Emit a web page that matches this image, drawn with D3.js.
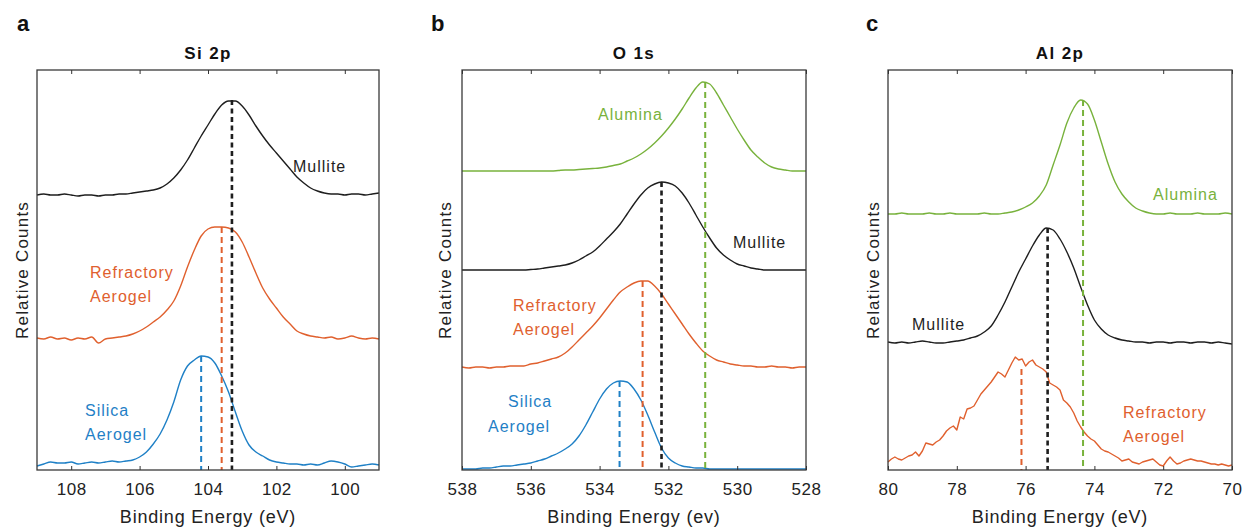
<!DOCTYPE html>
<html>
<head>
<meta charset="utf-8">
<script src="https://cdnjs.cloudflare.com/ajax/libs/d3/7.8.5/d3.min.js"></script>
<style>
  body { margin: 0; background: #fff; }
  svg text { font-family: "Liberation Sans", Arial, sans-serif; }
</style>
</head>
<body>
<svg id="chart" width="1245" height="527"></svg>
<script>
var colors = { black: "#1e1e1e", orange: "#e0602e", blue: "#1f80c6", green: "#78b23c" };

// energy grids (eV), high -> low like the plot
function grid(start, step, n) {
  return d3.range(n).map(function (i) { return +(start - i * step).toFixed(1); });
}
var siEnergy = grid(109, 0.2, 51);
var oEnergy = grid(538, 0.2, 51);
var alEnergy = grid(80, 0.2, 51);
var alEnergyFine = grid(80, 0.1, 101);

// relative counts, stacked offsets as drawn
var siMullite = [275, 276, 275, 275, 276, 275, 274, 275, 275, 274, 275, 275, 276, 276, 277, 278,
  279, 280, 282, 286, 292, 300, 310, 322, 334, 345, 356, 365, 369, 369, 364, 355, 344, 334, 325,
  317, 309, 301, 293, 287, 282, 279, 277, 276, 276, 275, 276, 276, 275, 276, 277];
var siRefractory = [132, 131, 133, 131, 132, 130, 132, 131, 133, 127, 131, 132, 133, 134, 136, 139,
  143, 148, 153, 160, 169, 184, 203, 220, 234, 241, 243, 243, 242, 238, 228, 213, 197, 182, 171,
  162, 153, 146, 139, 136, 134, 133, 132, 133, 131, 132, 134, 132, 131, 132, 131];
var siSilica = [4, 6, 8, 7, 7, 8, 6, 7, 8, 7, 8, 9, 8, 9, 10, 13, 18, 26, 36, 50, 68, 90, 104, 110,
  114, 113, 107, 94, 78, 58, 39, 25, 18, 14, 10, 8, 7, 6, 6, 5, 6, 5, 7, 9, 8, 6, 3, 4, 5, 6, 5];

var oAlumina = [299, 299, 299, 299, 299, 299, 299, 299, 299, 299, 299, 299, 299, 299, 299.5, 300,
  300, 300.5, 301, 301.5, 302, 303, 304.5, 306, 309, 312, 316, 321, 327, 334, 342, 351, 361, 372, 382,
  388, 386, 377, 365, 353, 341, 330, 320, 313, 307, 303, 301, 300, 299, 299, 299];
var oMullite = [200, 200, 200, 200, 200, 200, 200, 200, 200, 200, 200.5, 201, 202, 203, 204, 205,
  207, 210, 214, 218, 224, 231, 238, 246, 256, 266, 275, 282, 286, 288, 287, 284, 277, 267, 255,
  243, 232, 222, 215, 210, 206, 204, 202, 201, 200, 200, 200, 200, 200, 200, 200];
var oRefractory = [103, 102, 103, 103, 102, 103, 103, 104, 104, 104, 106, 107, 109, 111, 113, 117,
  123, 130, 137, 144, 152, 161, 170, 178, 183, 187, 189, 189, 184, 176, 166, 156, 146, 136, 127,
  119, 114, 110, 108, 106, 105, 104, 104, 103, 103, 104, 103, 103, 102, 103, 103];
var oSilica = [1, 1, 1, 2, 2, 3, 4, 4, 5, 6, 7, 9, 11, 14, 17, 21, 26, 34, 45, 58, 71, 81, 87, 89,
  88, 81, 70, 55, 38, 22, 12, 7, 4, 3, 2, 2, 1, 1, 1, 1, 1, 1, 1, 1, 1, 1, 1, 1, 1, 1, 1];

var alAlumina = [256, 256, 257, 256, 256, 256, 257, 256, 256, 257, 256, 256, 256, 256, 257, 256,
  256, 257, 258, 260, 263, 267, 274, 285, 305, 325, 347, 362, 370, 366, 350, 328, 306, 288, 276,
  268, 262, 259, 257, 256, 256, 257, 256, 256, 256, 257, 256, 256, 256, 257, 256];
var alMullite = [128, 127, 128, 127, 128, 129, 128, 127, 127, 128, 129, 130, 132, 134, 138, 144,
  155, 168, 183, 198, 211, 224, 235, 242, 240, 231, 218, 202, 183, 165, 150, 141, 135, 132, 130,
  129, 128, 128, 127, 128, 128, 127, 128, 128, 127, 128, 128, 127, 128, 127, 126];
var alRefractory = [8, 11, 13, 11, 10, 12, 14, 15, 18, 14,
  19, 27, 26, 25, 28, 30, 34, 39, 42, 44,
  40, 53, 51, 61, 62, 64, 70, 76, 80, 84,
  88, 93, 98, 96, 93, 100, 107, 113, 110, 111,
  104, 108, 110, 105, 103, 101, 98, 87, 85, 83,
  80, 70, 67, 63, 57, 49, 43, 38, 34, 31,
  29, 25, 21, 19, 18, 16, 14, 12, 9, 10,
  11, 8, 7, 6, 8, 9, 10, 11, 8, 5,
  4, 9, 13, 9, 6, 7, 9, 10, 11, 10,
  9, 9, 8, 7, 6, 6, 5, 6, 5, 4, 5];

// peak positions marked by dashed lines: energy and top of the line
var siPeakEnergy = [103.3, 103.6, 104.2];
var siPeakTop = [370, 243, 114];
var oPeakEnergy = [530.93, 532.2, 532.75, 533.42];
var oPeakTop = [388, 288, 189, 89];
var alPeakEnergy = [74.33, 75.36, 76.12];
var alPeakTop = [370, 242, 101];

var siTicks = [108, 106, 104, 102, 100];
var oTicks = [538, 536, 534, 532, 530, 528];
var alTicks = [80, 78, 76, 74, 72, 70];

var svg = d3.select("#chart");
var plotTop = 70, plotBottom = 470;

var panels = [
  {
    letter: "a", letterX: 17, title: "Si 2p", axisTitle: "Binding Energy (eV)",
    left: 37, right: 379, domain: [109, 99], ticks: siTicks, ylabelX: 28,
    series: [
      { e: siEnergy, v: siMullite, c: colors.black },
      { e: siEnergy, v: siRefractory, c: colors.orange },
      { e: siEnergy, v: siSilica, c: colors.blue }
    ],
    peaks: { e: siPeakEnergy, top: siPeakTop, c: [colors.black, colors.orange, colors.blue] },
    labels: [
      { t: ["Mullite"], x: 293, y: 172, c: colors.black },
      { t: ["Refractory", "Aerogel"], x: 90, y: 278, c: colors.orange },
      { t: ["Silica", "Aerogel"], x: 85, y: 416, c: colors.blue }
    ]
  },
  {
    letter: "b", letterX: 431, title: "O 1s", axisTitle: "Binding Energy (ev)",
    left: 462, right: 806, domain: [538, 528], ticks: oTicks, ylabelX: 451,
    series: [
      { e: oEnergy, v: oAlumina, c: colors.green },
      { e: oEnergy, v: oMullite, c: colors.black },
      { e: oEnergy, v: oRefractory, c: colors.orange },
      { e: oEnergy, v: oSilica, c: colors.blue }
    ],
    peaks: { e: oPeakEnergy, top: oPeakTop, c: [colors.green, colors.black, colors.orange, colors.blue] },
    labels: [
      { t: ["Alumina"], x: 598, y: 120, c: colors.green },
      { t: ["Mullite"], x: 733, y: 248, c: colors.black },
      { t: ["Refractory", "Aerogel"], x: 513, y: 311, c: colors.orange },
      { t: ["Silica"], x: 508, y: 407, c: colors.blue },
      { t: ["Aerogel"], x: 488, y: 432, c: colors.blue }
    ]
  },
  {
    letter: "c", letterX: 866, title: "Al 2p", axisTitle: "Binding Energy (eV)",
    left: 888, right: 1232, domain: [80, 70], ticks: alTicks, ylabelX: 879,
    series: [
      { e: alEnergy, v: alAlumina, c: colors.green },
      { e: alEnergy, v: alMullite, c: colors.black },
      { e: alEnergyFine, v: alRefractory, c: colors.orange, linear: true }
    ],
    peaks: { e: alPeakEnergy, top: alPeakTop, c: [colors.green, colors.black, colors.orange] },
    labels: [
      { t: ["Alumina"], x: 1153, y: 200, c: colors.green },
      { t: ["Mullite"], x: 912, y: 330, c: colors.black },
      { t: ["Refractory", "Aerogel"], x: 1123, y: 418, c: colors.orange }
    ]
  }
];

var y = d3.scaleLinear().domain([0, 400]).range([plotBottom, plotTop]);

panels.forEach(function (p) {
  var x = d3.scaleLinear().domain(p.domain).range([p.left, p.right]);
  var g = svg.append("g");
  var mid = (p.left + p.right) / 2;

  p.series.forEach(function (s) {
    var line = d3.line()
      .x(function (d, i) { return x(s.e[i]); })
      .y(function (d) { return y(d); })
      .curve(s.linear ? d3.curveLinear : d3.curveMonotoneX);
    g.append("path")
      .attr("d", line(s.v))
      .attr("fill", "none")
      .attr("stroke", s.c)
      .attr("stroke-width", 1.4)
      .attr("stroke-linejoin", "round");
  });

  p.peaks.e.forEach(function (e, i) {
    var isBlack = p.peaks.c[i] === colors.black;
    g.append("line")
      .attr("x1", x(e)).attr("x2", x(e))
      .attr("y1", y(p.peaks.top[i])).attr("y2", plotBottom)
      .attr("stroke", p.peaks.c[i])
      .attr("stroke-width", isBlack ? 2.6 : 2)
      .attr("stroke-dasharray", isBlack ? "5,3.5" : "6,4");
  });

  g.append("rect")
    .attr("x", p.left).attr("y", plotTop)
    .attr("width", p.right - p.left).attr("height", plotBottom - plotTop)
    .attr("fill", "none").attr("stroke", "#3a3a3a").attr("stroke-width", 1.3);

  var axB = g.append("g").attr("transform", "translate(0," + plotBottom + ")")
    .call(d3.axisBottom(x).tickValues(p.ticks).tickSize(-4).tickPadding(13).tickFormat(d3.format("d")));
  var axT = g.append("g").attr("transform", "translate(0," + plotTop + ")")
    .call(d3.axisTop(x).tickValues(p.ticks).tickSize(-4).tickFormat(""));
  [axB, axT].forEach(function (ax) {
    ax.select(".domain").remove();
    ax.selectAll(".tick line").attr("stroke", "#333");
  });
  axB.selectAll("text")
    .attr("font-size", 17).attr("fill", "#222").attr("letter-spacing", 0.5)
    .attr("font-family", "Liberation Sans, Arial, sans-serif");

  g.append("text").attr("x", mid).attr("y", 523)
    .attr("text-anchor", "middle").attr("font-size", 18).attr("letter-spacing", 0.8)
    .attr("fill", "#222").text(p.axisTitle);

  g.append("text")
    .attr("transform", "translate(" + p.ylabelX + "," + (plotTop + plotBottom) / 2 + ") rotate(-90)")
    .attr("text-anchor", "middle").attr("font-size", 17).attr("letter-spacing", 1.2)
    .attr("fill", "#222").text("Relative Counts");

  g.append("text").attr("x", mid).attr("y", 59)
    .attr("text-anchor", "middle").attr("font-size", 17).attr("font-weight", "bold")
    .attr("letter-spacing", 1.4).attr("fill", "#111").text(p.title);

  g.append("text").attr("x", p.letterX).attr("y", 31)
    .attr("font-size", 22).attr("font-weight", "bold").attr("fill", "#111").text(p.letter);

  p.labels.forEach(function (l) {
    var t = g.append("text").attr("x", l.x).attr("y", l.y)
      .attr("font-size", 16).attr("letter-spacing", 1).attr("fill", l.c);
    l.t.forEach(function (s, i) {
      t.append("tspan").attr("x", l.x).attr("dy", i ? 24 : 0).text(s);
    });
  });
});
</script>
</body>
</html>
